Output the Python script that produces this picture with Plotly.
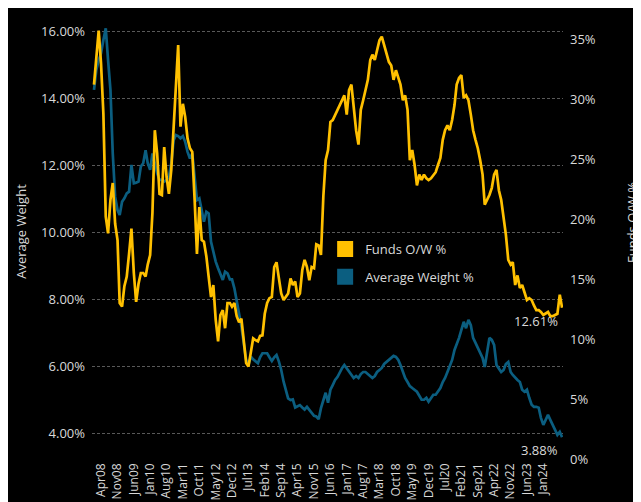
import pandas as pd
import plotly.graph_objects as go

funds_ow = [
    31.2, 33.5, 35.7, 33.0, 28.8, 20.2, 18.8, 21.6, 23.0, 19.6,
    18.25, 13.0, 12.7, 14.4, 15.2, 17.1, 19.2, 15.5, 13.1, 14.6,
    15.5, 15.5, 15.2, 16.2, 17.0, 20.5, 27.4, 25.5, 22.1, 22.0,
    26.0, 23.5, 22.1, 24.1, 27.7, 31.9, 34.5, 27.7, 29.6, 28.5,
    26.7, 25.9, 25.6, 21.6, 17.1, 21.0, 18.25, 18.1, 16.9, 15.2,
    13.5, 14.5, 11.6, 9.8, 12.0, 12.4, 10.9, 13.0, 13.0, 12.7,
    13.0, 11.9, 11.4, 11.7, 9.9, 8.0, 7.7, 9.1, 10.05, 9.9,
    9.8, 10.25, 10.3, 12.1, 13.0, 13.4, 13.5, 16.0, 16.4, 15.05,
    13.8, 13.25, 13.5, 13.8, 15.05, 14.5, 14.8, 13.5, 13.8, 15.75,
    16.6, 16.0, 14.9, 16.0, 15.9, 17.9, 17.8, 17.0, 21.9, 24.9,
    25.75, 28.1, 28.25, 28.7, 29.1, 29.5, 29.9, 30.3, 28.7, 30.75,
    31.2, 29.1, 27.4, 26.2, 29.1, 29.9, 30.75, 31.6, 33.25, 33.7,
    33.25, 34.1, 34.9, 35.2, 34.5, 33.7, 33.1, 32.8, 31.6, 32.4,
    31.75, 31.2, 29.9, 30.3, 29.1, 24.9, 25.75, 24.5, 22.8, 23.7,
    23.25, 23.7, 23.4, 23.25, 23.4, 23.7, 23.9, 24.5, 25.1, 26.6,
    27.4, 27.8, 27.4, 28.25, 29.5, 31.2, 31.75, 32.0, 30.1, 30.3,
    29.9, 28.7, 27.4, 26.6, 25.9, 24.9, 23.7, 21.2, 21.6, 22.0,
    22.6, 23.7, 24.1, 22.4, 21.6, 20.3, 18.7, 16.6, 16.2, 16.4,
    14.5, 15.3, 14.25, 14.5, 13.9, 13.25, 13.4, 13.25, 12.8, 12.4,
    12.4, 12.25, 12.0, 12.1, 12.25, 11.9, 11.9, 12.0, 12.1, 13.7,
    12.61,
]

average_weight = [
    14.26, 14.85, 15.15, 15.35, 15.75, 16.1, 15.15, 14.26, 12.36, 11.07,
    10.67, 10.52, 10.92, 11.02, 11.17, 11.22, 12.02, 11.47, 11.49, 11.52,
    11.97, 12.07, 12.46, 12.07, 11.87, 12.36, 12.07, 11.77, 11.57, 11.57,
    11.52, 11.57, 11.67, 12.07, 12.76, 12.91, 12.88, 12.81, 12.88, 12.71,
    12.41, 12.21, 12.36, 11.67, 10.97, 11.02, 10.67, 10.32, 10.62, 10.57,
    9.72, 9.38, 9.13, 8.93, 8.73, 8.58, 8.83, 8.78, 8.60, 8.60,
    8.33, 7.98, 7.58, 7.19, 6.69, 6.19, 6.04, 6.29, 6.21, 6.14,
    6.09, 6.27, 6.39, 6.39, 6.39, 6.27, 6.16, 6.27, 6.34, 6.14,
    5.89, 5.54, 5.29, 5.04, 4.99, 5.01, 4.77, 4.81, 4.84, 4.77,
    4.71, 4.79, 4.70, 4.62, 4.52, 4.50, 4.42, 4.75, 4.99, 5.21,
    4.91, 5.30, 5.44, 5.59, 5.68, 5.83, 5.95, 6.04, 5.95, 5.83,
    5.74, 5.65, 5.71, 5.65, 5.77, 5.83, 5.83, 5.77, 5.71, 5.65,
    5.71, 5.83, 5.89, 5.95, 6.07, 6.13, 6.19, 6.25, 6.31, 6.28,
    6.19, 6.04, 5.83, 5.65, 5.53, 5.41, 5.35, 5.30, 5.24, 5.12,
    5.00, 5.00, 5.06, 4.94, 5.06, 5.15, 5.15, 5.24, 5.35, 5.53,
    5.65, 5.83, 6.04, 6.19, 6.49, 6.64, 6.85, 7.09, 7.33, 7.14,
    7.39, 7.23, 6.85, 6.70, 6.55, 6.43, 6.25, 5.98, 6.49, 6.85,
    6.79, 6.64, 6.04, 5.95, 5.83, 5.89, 6.07, 6.13, 5.83, 5.74,
    5.65, 5.59, 5.53, 5.30, 5.24, 5.30, 5.06, 4.85, 4.79, 4.79,
    4.76, 4.46, 4.25, 4.40, 4.55, 4.40, 4.22, 4.10, 3.95, 4.04,
    3.88,
]

tick_labels = [
    "Apr08", "Nov08", "Jun09", "Jan10", "Aug10", "Mar11", "Oct11", "May12",
    "Dec12", "Jul13", "Feb14", "Sep14", "Apr15", "Nov15", "Jun16", "Jan17",
    "Aug17", "Mar18", "Oct18", "May19", "Dec19", "Jul20", "Feb21", "Sep21",
    "Apr22", "Nov22", "Jun23", "Jan24",
]

months = pd.date_range("2008-04-01", periods=len(funds_ow), freq="MS")
tick_dates = pd.date_range("2008-04-01", periods=len(tick_labels), freq="7MS")

ORANGE = "#FFC000"
BLUE = "#0B5E80"
TEXT = "#D9D9D9"
FONT = "Open Sans"

fig = go.Figure()
fig.add_trace(go.Scatter(x=months, y=average_weight, mode="lines",
                         line=dict(color=BLUE, width=2.7), yaxis="y",
                         showlegend=False, hoverinfo="skip"))
fig.add_trace(go.Scatter(x=months, y=funds_ow, mode="lines",
                         line=dict(color=ORANGE, width=2.7), yaxis="y2",
                         showlegend=False, hoverinfo="skip"))
# legend swatches
fig.add_trace(go.Scatter(x=[None], y=[None], mode="markers", name="Funds O/W %",
                         marker=dict(symbol="square", size=18, color=ORANGE),
                         legendgroup="a", yaxis="y2"))
fig.add_trace(go.Scatter(x=[None], y=[None], mode="markers", name="Average Weight %",
                         marker=dict(symbol="square", size=18, color=BLUE),
                         legendgroup="b"))

fig.add_annotation(x=months[-1], y=funds_ow[-1], xref="x", yref="y2",
                   text=f"{funds_ow[-1]:.2f}%", showarrow=False,
                   xanchor="right", yanchor="middle", xshift=-2, yshift=-13,
                   font=dict(color=TEXT, size=13, family=FONT))
fig.add_annotation(x=months[-1], y=average_weight[-1], xref="x", yref="y",
                   text=f"{average_weight[-1]:.2f}%", showarrow=False,
                   xanchor="right", yanchor="middle", xshift=-2, yshift=-13,
                   font=dict(color=TEXT, size=13, family=FONT))
fig.add_annotation(x=-0.151, y=0.522, xref="paper", yref="paper",
                   text="Average Weight", textangle=-90, showarrow=False,
                   xanchor="center", yanchor="middle",
                   font=dict(color=TEXT, size=13, family=FONT))
fig.add_annotation(x=1.1465, y=0.54, xref="paper", yref="paper",
                   text="Funds O/W %", textangle=-90, showarrow=False,
                   xanchor="center", yanchor="middle",
                   font=dict(color=TEXT, size=13, family=FONT))

# the page body adds an 8px margin at top/left, so the figure is 8px smaller
fig.update_layout(
    width=633, height=494,
    margin=dict(l=84, r=78, t=14, b=43, autoexpand=False),
    paper_bgcolor="#000000", plot_bgcolor="#000000",
    font=dict(family=FONT, color=TEXT, size=13),
    showlegend=True,
    legend=dict(x=0.495, y=0.515, xanchor="left", yanchor="top",
                bgcolor="rgba(0,0,0,0)", font=dict(size=13, color=TEXT),
                traceorder="grouped", tracegroupgap=8),
    xaxis=dict(
        type="date",
        range=[months[0] - pd.Timedelta(days=26), months[-1] + pd.Timedelta(days=12)],
        tickvals=tick_dates, ticktext=tick_labels, tickangle=-90,
        showgrid=False, zeroline=False, showline=False, ticks="",
        automargin=False, tickfont=dict(size=12, color=TEXT),
        ticklabelshift=7, ticklabelstandoff=1,
    ),
    yaxis=dict(
        range=[3.23, 16.29], tickvals=[4, 6, 8, 10, 12, 14, 16],
        ticktext=["4.00%", "6.00%", "8.00%", "10.00%", "12.00%", "14.00%", "16.00%"],
        showgrid=True, gridcolor="#595959", griddash="3px,2px", gridwidth=1,
        zeroline=False, showline=False, ticks="", automargin=False,
        ticklabelstandoff=6,
    ),
    yaxis2=dict(
        range=[0, 36.42], overlaying="y", side="right",
        tickvals=[0, 5, 10, 15, 20, 25, 30, 35],
        ticktext=["0%", "5%", "10%", "15%", "20%", "25%", "30%", "35%"],
        showgrid=False, zeroline=False, showline=False, ticks="", automargin=False,
        ticklabelstandoff=6,
    ),
)

fig.write_html("out.html")
